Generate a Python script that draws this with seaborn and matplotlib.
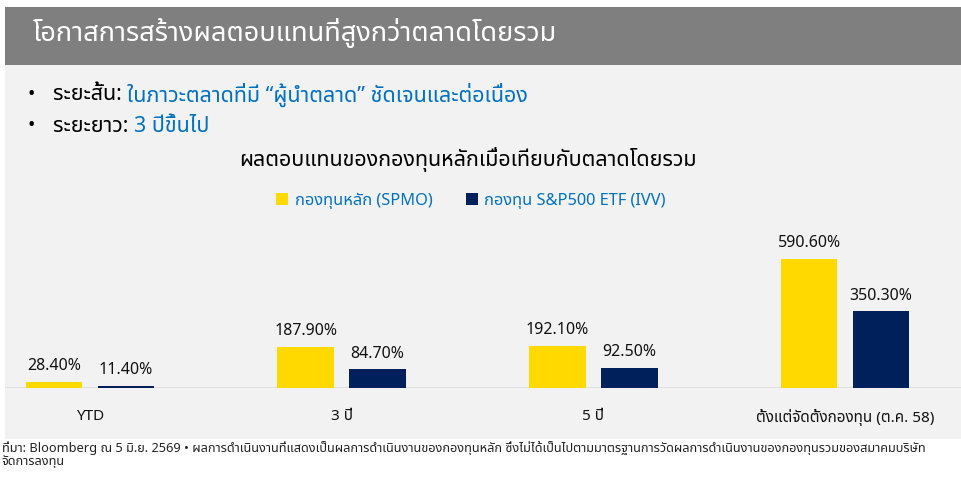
import matplotlib
matplotlib.use("Agg")
import matplotlib.pyplot as plt
import pandas as pd
import seaborn as sns
from matplotlib import font_manager
from matplotlib.ft2font import FT2Font
from matplotlib.patches import Rectangle

periods = ["YTD", "3 ปี", "5 ปี", "ตั้งแต่จัดตั้งกองทุน (ต.ค. 58)"]
funds = ["กองทุนหลัก (SPMO)", "กองทุน S&P500 ETF (IVV)"]
spmo = [28.4, 187.9, 192.1, 590.6]
ivv = [11.4, 84.7, 92.5, 350.3]

title = "โอกาสการสร้างผลตอบแทนที่สูงกว่าตลาดโดยรวม"
chart_title = "ผลตอบแทนของกองทุนหลักเมื่อเทียบกับตลาดโดยรวม"
bullets = [("ระยะสั้น: ", "ในภาวะตลาดที่มี “ผู้นำตลาด” ชัดเจนและต่อเนื่อง"),
           ("ระยะยาว: ", "3 ปีขึ้นไป")]
footer = ("ที่มา: Bloomberg ณ 5 มิ.ย. 2569 • ผลการดำเนินงานที่แสดงเป็นผลการดำเนินงานของกองทุนหลัก "
          "ซึ่งไม่ได้เป็นไปตามมาตรฐานการวัดผลการดำเนินงานของกองทุนรวมของสมาคมบริษัท\nจัดการลงทุน")

# pick a font that actually has Thai glyphs
thai_fonts = []
for f in font_manager.fontManager.ttflist:
    try:
        cm = FT2Font(f.fname).get_charmap()
    except Exception:
        continue
    if 0x0E01 in cm and f.name not in thai_fonts:
        thai_fonts.append(f.name)

pref = ["Noto Sans Thai", "Noto Sans Thai UI", "Kanit", "Prompt", "Sarabun"]
main_font = next((p for p in pref if p in thai_fonts), thai_fonts[0] if thai_fonts else "DejaVu Sans")

sns.set_theme(style="white")
plt.rcParams["font.family"] = [main_font, "DejaVu Sans"]

YELLOW = "#FFD900"
NAVY = "#00205B"
BLUE = "#0070C0"

W, H = 961, 478
fig = plt.figure(figsize=(W / 100, H / 100), dpi=100)
fig.patch.set_facecolor("white")

def px(x, y):
    return x / W, 1 - y / H

# header band and light panel (behind the axes)
fig.patches.append(Rectangle(px(5, 65), (W - 5) / W, 58 / H, transform=fig.transFigure,
                             facecolor="#7F7F7F", edgecolor="none", zorder=-2))
fig.patches.append(Rectangle(px(5, 439), (W - 5) / W, 374 / H, transform=fig.transFigure,
                             facecolor="#F2F2F2", edgecolor="none", zorder=-2))

fig.text(*px(33, 33), title, color="white", fontsize=19.5, va="center", ha="left")

renderer = fig.canvas.get_renderer()
for i, (lead, rest) in enumerate(bullets):
    y = 95 + i * 31
    fig.text(*px(31, y), "•", fontsize=14, va="center", ha="center", color="black")
    t = fig.text(*px(53, y), lead, fontsize=15.5, va="center", ha="left", color="black")
    bb = t.get_window_extent(renderer)
    fig.text(bb.x1 / W, 1 - y / H, rest, fontsize=15.5, va="center", ha="left", color=BLUE)

fig.text(*px(468, 160), chart_title, fontsize=15.5, va="center", ha="center", color="black")

ax = fig.add_axes([5 / W, 90 / H, (W - 5) / W, 168 / H])
ax.set_facecolor("none")

df = pd.DataFrame({
    "period": periods * 2,
    "fund": [funds[0]] * 4 + [funds[1]] * 4,
    "value": spmo + ivv,
})
sns.barplot(data=df, x="period", y="value", hue="fund", palette=[YELLOW, NAVY],
            width=0.572, gap=0.21, ax=ax, saturation=1, edgecolor="none", linewidth=0)

for cont in ax.containers:
    ax.bar_label(cont, labels=[f"{v:.2f}%" for v in cont.datavalues], padding=5.5,
                 fontsize=11.5, fontweight="medium", color="#111111")

ax.set_xlim(-85 / 251.67, (W - 90) / 251.67)
ax.set_ylim(0, 168 * 590.6 / 129)
ax.axhline(0, color="#DDDDDD", lw=1.2, zorder=0)
for s in ax.spines.values():
    s.set_visible(False)
ax.set_yticks([])
ax.set_xlabel("")
ax.set_ylabel("")
ax.tick_params(axis="x", length=0, pad=15, labelsize=11, labelcolor="#111111")
for lab in ax.get_xticklabels():
    lab.set_fontweight("medium")

handles, labels = ax.get_legend_handles_labels()
ax.legend(handles, labels, loc="center", bbox_to_anchor=px(471, 201), bbox_transform=fig.transFigure,
          ncol=2, frameon=False, handlelength=0.75, handleheight=0.75, handletextpad=0.4,
          columnspacing=2.0, labelcolor=BLUE, prop={"size": 11.8, "weight": "medium"})

fig.text(*px(2, 455), footer, fontsize=9.2, va="center", ha="left", color="#222222", linespacing=1.0)

fig.savefig("out.png", dpi=100)
